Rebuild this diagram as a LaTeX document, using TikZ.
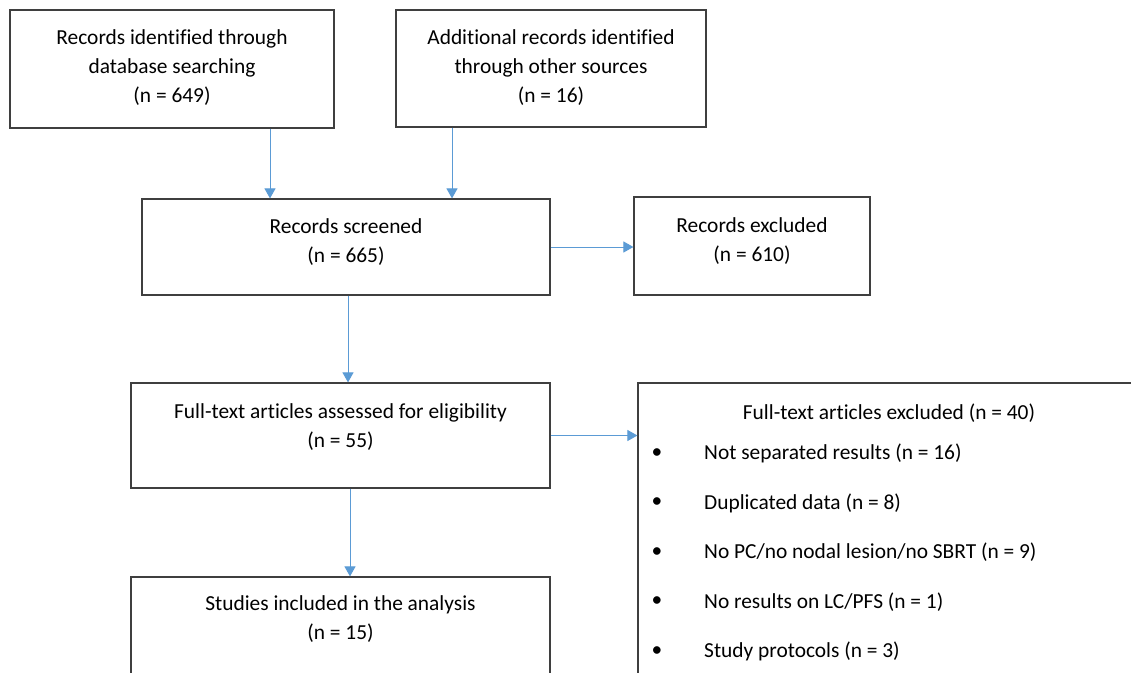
\documentclass[tikz,border=0pt]{standalone}
\usepackage{fontspec}
\setmainfont{Carlito}[Ligatures=NoCommon]
\usetikzlibrary{positioning, arrows.meta, calc}
\definecolor{linkblue}{HTML}{5B9BD5}
\definecolor{boxgray}{HTML}{3F3F3F}
\tikzset{%
  box/.style={draw=boxgray, line width=1.2pt, inner sep=0pt}, % the rectangles
  txt/.style={align=center, inner sep=0pt, font=\fontsize{21.4}{29}\selectfont},
  link/.style={draw=linkblue, line width=1pt, -{Triangle[length=10pt, width=11pt]}}
}

\begin{document}
\begin{tikzpicture}[x=1pt, y=-1pt]
    \clip (0,0) rectangle (1131,672);
    \fill[white] (0,0) rectangle (1131,672);

    \node[box, minimum width=324pt, minimum height=118pt] (b1) at (172,69) {};
    \node[box, minimum width=310pt, minimum height=117pt] (b2) at (551,68.5) {};
    \node[box, minimum width=408pt, minimum height=96pt] (b3) at (346,247) {};
    \node[box, minimum width=236pt, minimum height=98pt] (b4) at (752,246) {};
    \node[box, minimum width=419pt, minimum height=105pt] (b5) at (340.5,435.5) {};
    \node[box, minimum width=502pt, minimum height=330pt] (b6) at (889,548) {};
    \node[box, minimum width=419pt, minimum height=105pt] (b7) at (340.5,629.5) {};

    \node[txt] (t1) at ([yshift=1pt]b1.center) {Records identified through\\database searching\\(n = 649)};
    \node[txt] (t2) at ([yshift=1pt]b2.center) {Additional records identified\\through other sources\\(n = 16)};
    \node[txt] (t3) at ([yshift=5pt]b3.center) {Records screened\\(n = 665)};
    \node[txt] (t4) at ([yshift=5pt]b4.center) {Records excluded\\(n = 610)};
    \node[txt] (t5) at ([yshift=8.5pt]b5.center) {Full-text articles assessed for eligibility\\(n = 55)};
    \node[txt] (t7) at ([yshift=10.5pt]b7.center) {Studies included in the analysis\\(n = 15)};

    \node[txt] (t6) at (889,413) {Full-text articles excluded (n = 40)};
    \foreach \item [count=\i from 0] in {Not separated results (n = 16),
        Duplicated data (n = 8),
        No PC/no nodal lesion/no SBRT (n = 9),
        No results on LC/PFS (n = 1),
        Study protocols (n = 3)} {
      \node[txt] (d\i) at (657,453.5+49.5*\i) {\textbullet};
      \node[txt, anchor=west] (e\i) at (704,453.5+49.5*\i) {\item};
    }

    \coordinate (c1) at (270,0);
    \coordinate (c2) at (452,0);
    \coordinate (c3) at (348,0);
    \coordinate (c5) at (350,0);

    \draw[link] (b1.south -| c1) -- (c1 |- b3.north);
    \draw[link] (b2.south -| c2) -- (c2 |- b3.north);
    \draw[link] (b3.east) -- (b3.east -| b4.west);
    \draw[link] (b3.south -| c3) -- (c3 |- b5.north);
    \draw[link] (b5.east) -- (b5.east -| b6.west);
    \draw[link] (b5.south -| c5) -- (c5 |- b7.north);
\end{tikzpicture}
\end{document}
